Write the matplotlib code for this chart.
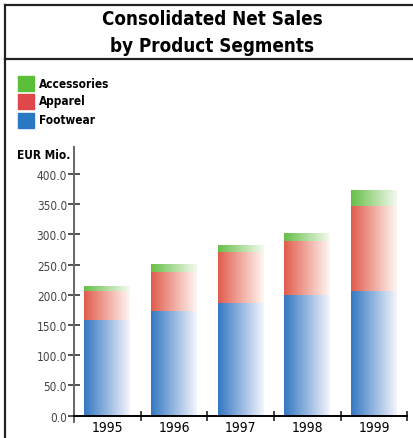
import numpy as np
import matplotlib
matplotlib.use('Agg')
from matplotlib import pyplot as plt
from matplotlib.lines import Line2D
from matplotlib.colors import LinearSegmentedColormap
from matplotlib.font_manager import FontProperties

plt.rcParams['font.family'] = ['DejaVu Sans']
plt.rcParams['font.stretch'] = 'condensed'

years       = ['1995', '1996', '1997', '1998', '1999']
footwear    = [158, 173, 187, 200, 207]
apparel     = [49, 65, 83, 89, 140]
accessories = [7, 13, 13, 13, 26]

seg_solid  = ['#2a78c2', '#e0474a', '#5cbf3a']
seg_left   = [(0.20, 0.47, 0.76), (0.88, 0.36, 0.30), (0.40, 0.75, 0.28)]
seg_right  = [(0.96, 0.96, 0.99), (1.00, 0.97, 0.95), (0.96, 0.98, 0.94)]

W, H = 413, 439
fig = plt.figure(figsize=(W / 100, H / 100), dpi=100)

# frame lines
fig.add_artist(Line2D([4.5 / W, 1], [1 - 5.7 / H, 1 - 5.7 / H], color='#222222', lw=1.6))
fig.add_artist(Line2D([4.5 / W, 1], [1 - 60 / H, 1 - 60 / H], color='#222222', lw=1.6))
fig.add_artist(Line2D([4.5 / W, 4.5 / W], [0, 1 - 5.7 / H], color='#222222', lw=1.6))

fig.text(212 / W, 1 - 19.5 / H, 'Consolidated Net Sales', ha='center', va='center',
         fontsize=13.5, fontweight='bold')
fig.text(212 / W, 1 - 46.5 / H, 'by Product Segments', ha='center', va='center',
         fontsize=13.5, fontweight='bold')

# legend
leg_y = [84, 102, 121]
for lab, col, yy in zip(['Accessories', 'Apparel', 'Footwear'], [seg_solid[2], seg_solid[1], seg_solid[0]], leg_y):
    fig.patches.append(plt.Rectangle((18 / W, 1 - (yy + 7.5) / H), 16 / W, 15 / H,
                                     transform=fig.transFigure, color=col))
    fig.text(39 / W, 1 - yy / H, lab, ha='left', va='center', fontsize=8.5, fontweight='bold')

fig.text(17 / W, 1 - 155.5 / H, 'EUR Mio.', ha='left', va='center', fontsize=8.5, fontweight='bold')

ax = fig.add_axes([74 / W, (439 - 422.7) / H, 333.3 / W, 274.4 / H])
x = np.arange(len(years))
bw = 0.685
bottom = np.zeros(len(years))
grad = np.linspace(0, 1, 256).reshape(1, -1)
for vals, lc, rc in zip([footwear, apparel, accessories], seg_left, seg_right):
    cmap = LinearSegmentedColormap.from_list('g', [lc, rc])
    bars = ax.bar(x, vals, bw, bottom=bottom, color='none', edgecolor='none')
    for b in bars:
        x0, y0 = b.get_x(), b.get_y()
        im = ax.imshow(grad, cmap=cmap, aspect='auto', interpolation='bicubic',
                       extent=(x0, x0 + b.get_width(), y0, y0 + b.get_height()), zorder=2)
        im.set_clip_path(b)
    bottom = bottom + np.array(vals)

ax.set_xlim(-0.5, len(years) - 0.5)
ax.set_ylim(-10, 444)
ax.tick_params(axis='x', which='major', length=0, pad=3)
ax.tick_params(axis='x', which='minor', length=7, direction='inout', width=1.2, color='#222222')
ax.tick_params(axis='y', length=8, direction='inout', width=1.2, color='#333333', pad=1)
yt = np.arange(0, 401, 50)
ax.set_yticks(yt, ['%.1f' % v for v in yt], fontsize=8.5, color='#444444')
xfp = FontProperties(family='DejaVu Sans', stretch='condensed', weight='bold', size=9)
ax.set_xticks(x, years, fontproperties=xfp)
ax.set_xticks(np.arange(-0.5, len(years)), minor=True)

for s in ['top', 'right']:
    ax.spines[s].set_visible(False)
ax.spines['bottom'].set_position(('data', 0))
ax.spines['bottom'].set_linewidth(1.4)
ax.spines['left'].set_color('#666666')
ax.spines['left'].set_linewidth(1.4)
ax.set_facecolor('none')

plt.savefig('out.png', dpi=100)
